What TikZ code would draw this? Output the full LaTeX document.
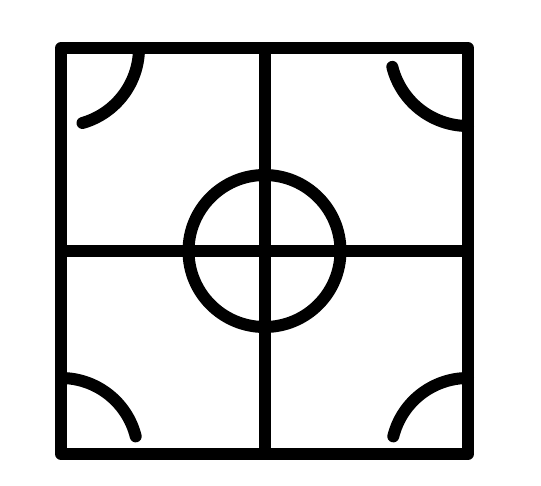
\documentclass[tikz,border=0pt]{standalone}
\begin{document}
\begin{tikzpicture}[x=1pt,y=-1pt,line width=12pt]
        \useasboundingbox (0,0) rectangle (541,485);

        \coordinate (nw) at (61,48);
        \coordinate (ne) at (468,48);
        \coordinate (sw) at (61,454);
        \coordinate (se) at (468,454);
        \coordinate (mid) at (264.5,251);

        \draw[line join=round] (nw) rectangle (se);
        \draw (nw -| mid) -- (sw -| mid);
        \draw (nw |- mid) -- (ne |- mid);
        \draw (mid) circle[radius=76];

        \draw[line cap=round] ([xshift=78pt]nw) arc[start angle=0, end angle=74, radius=78];
        \draw[line cap=round] ([yshift=-78pt]ne) arc[start angle=90, end angle=166, radius=78];
        \draw[line cap=round] ([yshift=76pt]sw) arc[start angle=-90, end angle=-14, radius=77];
        \draw[line cap=round] ([yshift=76pt]se) arc[start angle=-90, end angle=-166, radius=77];

\end{tikzpicture}
\end{document}
